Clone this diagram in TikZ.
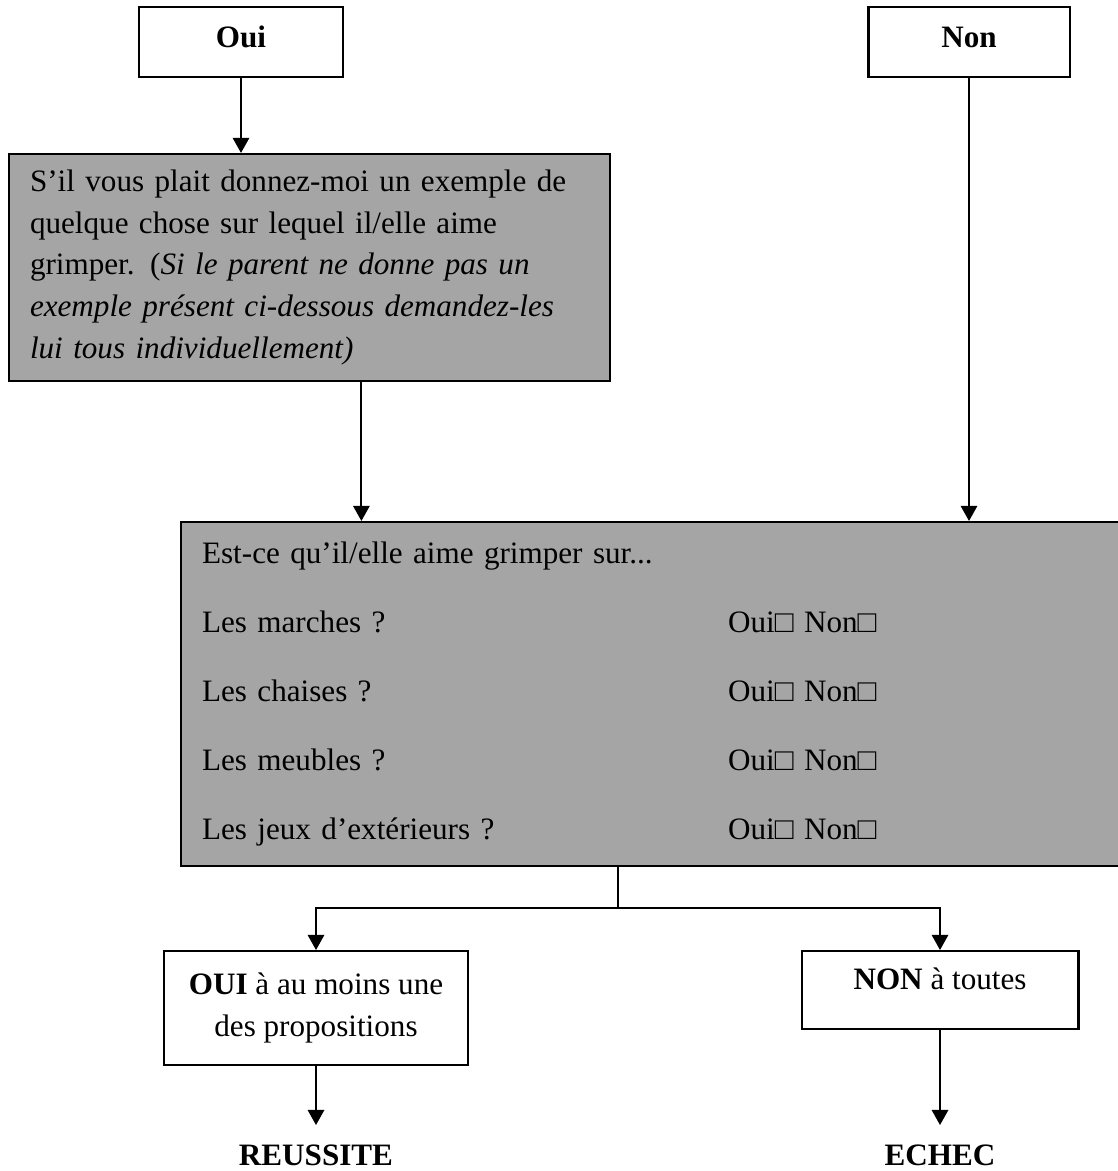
\documentclass[tikz,border=0pt]{standalone}
\usepackage{fontspec}
\setmainfont{Liberation Serif}
\usetikzlibrary{arrows.meta}
\definecolor{gris}{HTML}{A5A5A5}
\newcommand{\choix}[1]{\makebox[207.8pt][l]{#1}Oui□ Non□}

\begin{document}
\begin{tikzpicture}[x=0.395pt, y=-0.395pt,
  every node/.style={font=\fontsize{12.3pt}{16.4pt}\selectfont},
  boite/.style={draw=black, line width=0.8pt, rectangle, inner sep=0pt},
  grise/.style={boite, fill=gris, inner xsep=8.3pt, align=left},
  resultat/.style={inner sep=7.5pt},
  fleche/.style={black, line width=0.8pt, -{Triangle[length=6pt,width=6.5pt]}},
  trait/.style={black, line width=0.8pt}]
\useasboundingbox (0,0) rectangle (1117,1171);
\node [boite, minimum width=80.6pt, minimum height=27.7pt, text depth=4pt] (oui) at (241,42) {\textbf{Oui}};
\node [boite, minimum width=79.4pt, minimum height=27.7pt, text depth=4pt] (non) at (969,42) {\textbf{Non}};
\node [grise, minimum height=89.7pt, text width=220.8pt] (exemple) at (309.5,267.5)
  {S’il vous plait donnez-moi un exemple de\\
   quelque chose sur lequel il/elle aime\\
   grimper. ({\itshape Si le parent ne donne pas un\\
   exemple présent ci-dessous demandez-les\\
   lui tous individuellement)}};
\node [grise, minimum height=135.9pt, text width=357pt] (grimper) at (654,694)
  {Est-ce qu’il/elle aime grimper sur...\\[10.9pt]
   \choix{Les marches ?}\\[10.9pt]
   \choix{Les chaises ?}\\[10.9pt]
   \choix{Les meubles ?}\\[10.9pt]
   \choix{Les jeux d’extérieurs ?}};
\node [boite, minimum width=119.7pt, minimum height=45pt, align=center] (auMoins) at (316,1008)
  {\textbf{OUI} à au moins une\\des propositions};
\node [boite, minimum width=109.4pt, minimum height=30.8pt, text depth=9pt] (toutes) at (940,990) {\textbf{NON} à toutes};
\node [resultat] (reussite) at (316,1155) {\textbf{REUSSITE}};
\node [resultat] (echec) at (940,1155) {\textbf{ECHEC}};
\coordinate (fourche) at (618,908);
\draw [fleche] (oui) -- (oui |- exemple.north);
\draw [fleche] ([xshift=20.5pt]exemple.south) -- ([xshift=20.5pt]exemple.south |- grimper.north);
\draw [fleche] (non) -- (non |- grimper.north);
\draw [trait] (fourche |- grimper.south) -- (fourche);
\draw [fleche] (fourche) -| (auMoins);
\draw [fleche] (fourche) -| (toutes);
\draw [fleche] (auMoins) -- (reussite);
\draw [fleche] (toutes) -- (echec);
\end{tikzpicture}
\end{document}
